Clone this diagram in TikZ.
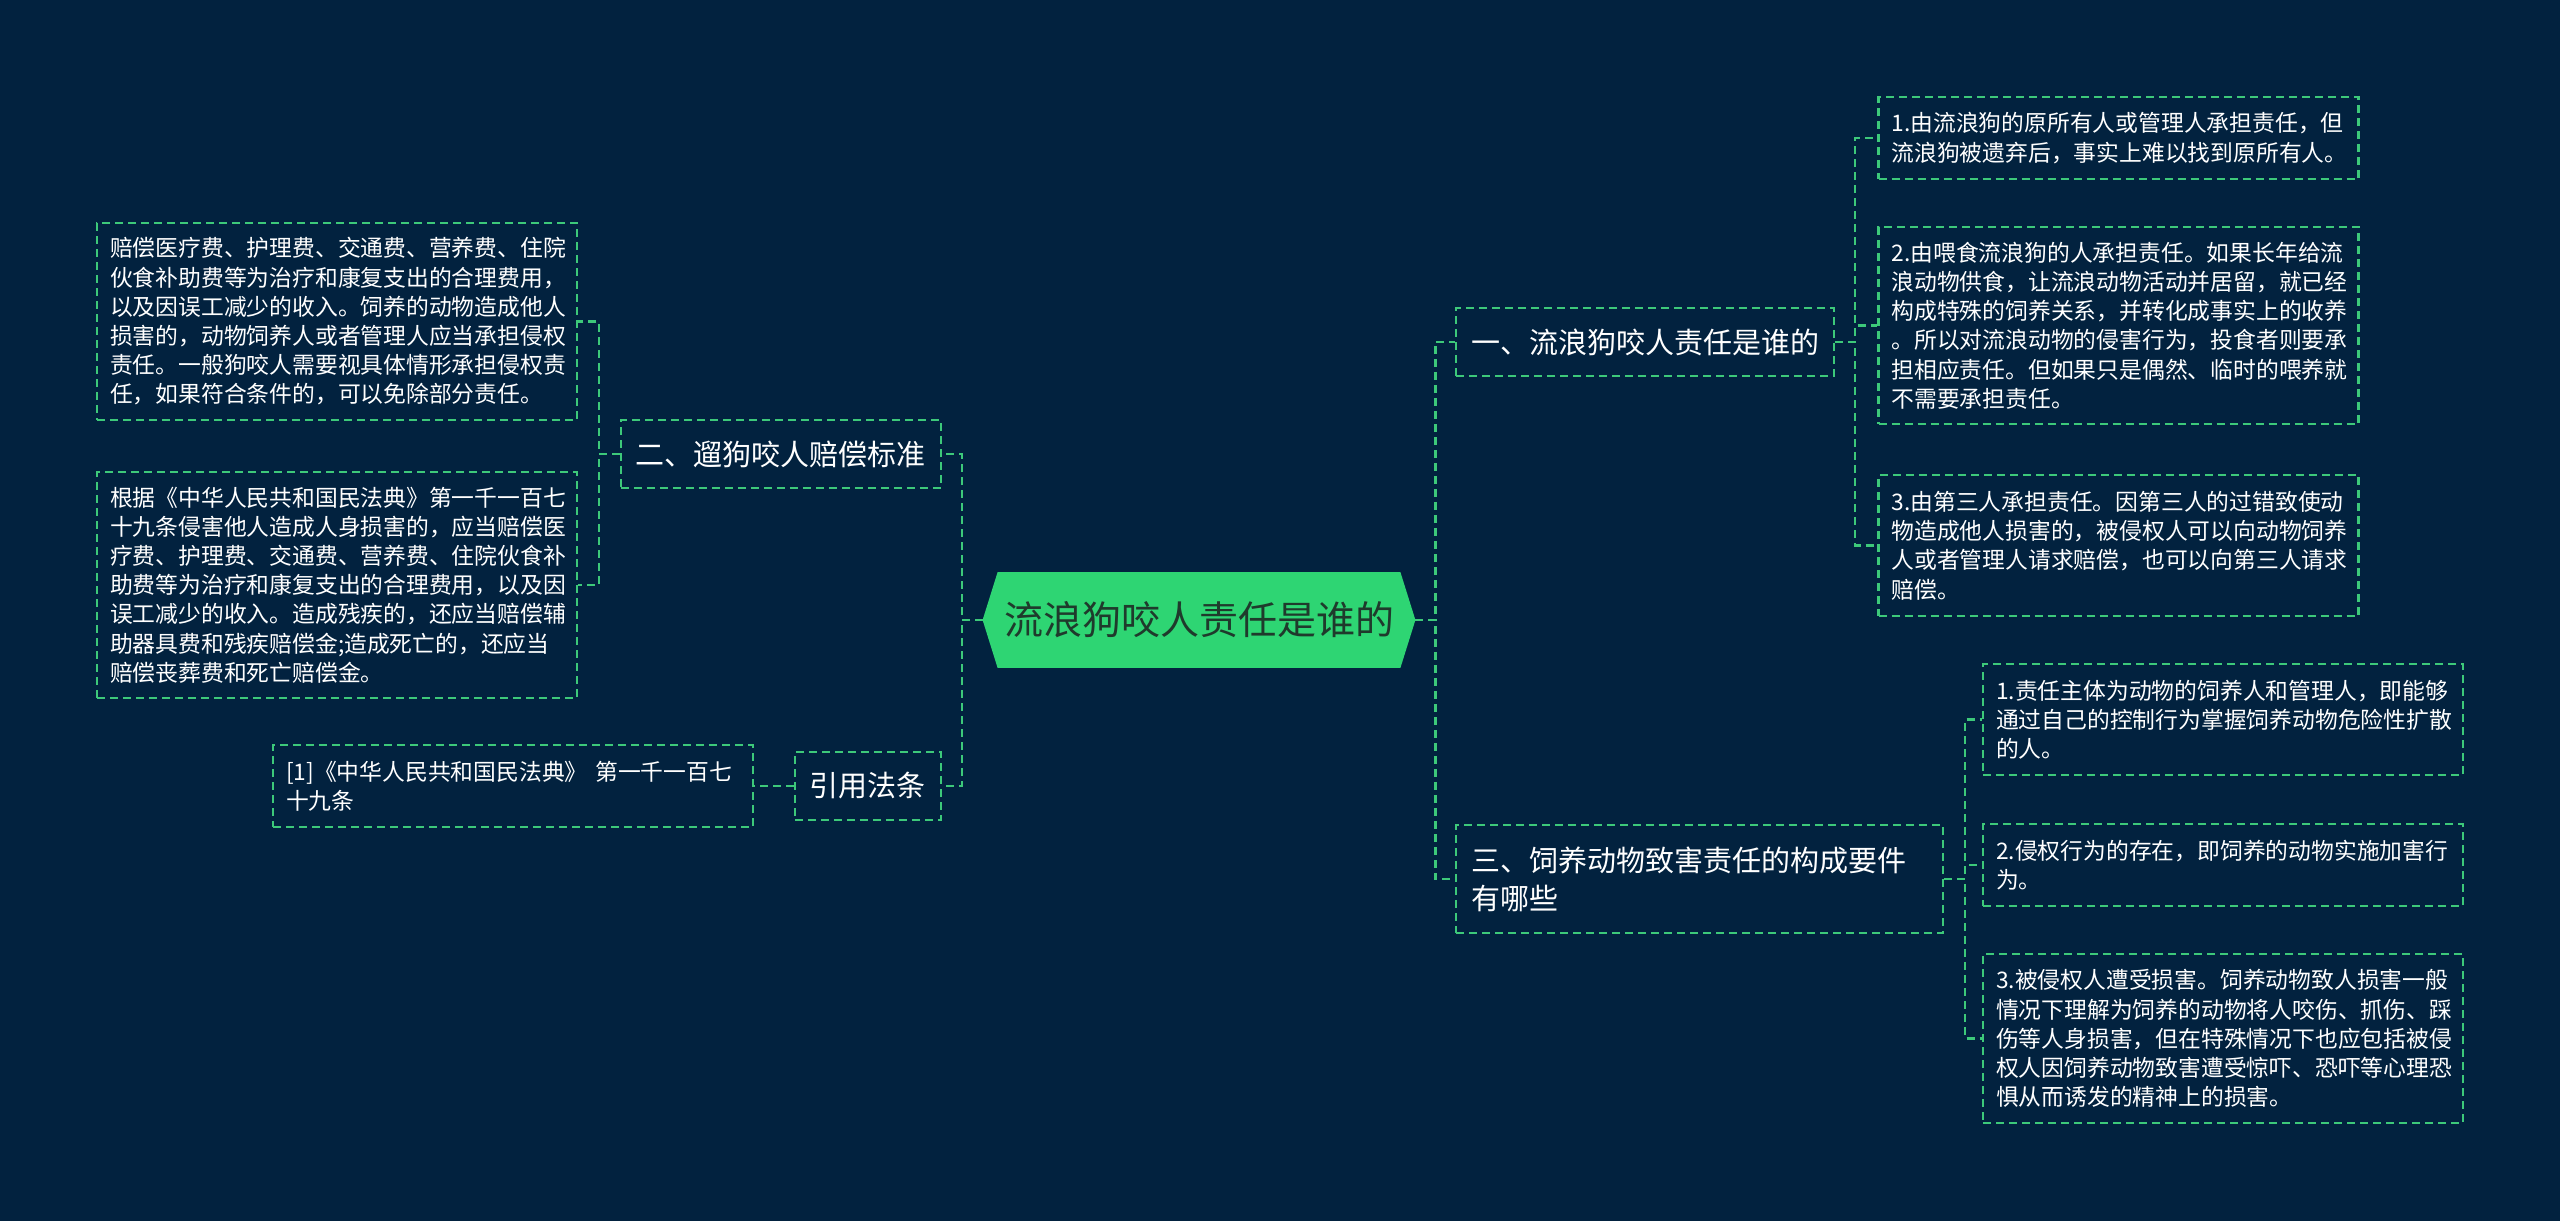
\documentclass[tikz,border=0pt]{standalone}
\usepackage{fontspec}
\setmainfont{Noto Sans CJK SC}
\usetikzlibrary{backgrounds}
\definecolor{bgnavy}{HTML}{02223F}
\definecolor{linegreen}{HTML}{3DC97A}
\definecolor{rootgreen}{HTML}{2ED573}
\definecolor{roottext}{HTML}{1F3A2C}

\begin{document}
\begin{tikzpicture}[x=0.5pt,y=-0.5pt,
  link/.style={draw=linegreen, line width=1.1pt, dash pattern=on 4pt off 2.5pt},
  branch/.style={link, text=white, font=\fontsize{14.5}{19}\selectfont, inner xsep=7.5pt, inner ysep=0pt, minimum height=34pt},
  leaf/.style={link, text=white, font=\fontsize{11.4}{14.6}\selectfont, align=left, text width=227pt, inner xsep=6.5pt, inner ysep=0pt}]
  % Canvas
  \begin{scope}[on background layer]
    \fill[bgnavy] (0,0) rectangle (2560,1221);
  \end{scope}
  \useasboundingbox (0,0) rectangle (2560,1221);
  % Centre topic
  \node[minimum width=216pt, minimum height=47.5pt, inner sep=0pt, text=roottext, font=\fontsize{19.5}{22}\selectfont] (root) at (1199,620) {流浪狗咬人责任是谁的};
  \begin{scope}[on background layer]
    \fill[rootgreen] (root.west) -- ([xshift=7.5pt]root.north west) -- ([xshift=-7.5pt]root.north east)
      -- (root.east) -- ([xshift=-7.5pt]root.south east) -- ([xshift=7.5pt]root.south west) -- cycle;
  \end{scope}
  % Left side: compensation and cited law
  \node[branch, anchor=east] (bite) at (942,454) {二、遛狗咬人赔偿标准};
  \node[branch, anchor=east] (cite) at (942,786) {引用法条};
  \node[leaf, minimum height=98.5pt] (pay1) at (337,321.5) {赔偿医疗费、护理费、交通费、营养费、住院\\伙食补助费等为治疗和康复支出的合理费用，\\以及因误工减少的收入。饲养的动物造成他人\\损害的，动物饲养人或者管理人应当承担侵权\\责任。一般狗咬人需要视具体情形承担侵权责\\任，如果符合条件的，可以免除部分责任。};
  \node[leaf, minimum height=113pt] (pay2) at (337,585) {根据《中华人民共和国民法典》第一千一百七\\十九条侵害他人造成人身损害的，应当赔偿医\\疗费、护理费、交通费、营养费、住院伙食补\\助费等为治疗和康复支出的合理费用，以及因\\误工减少的收入。造成残疾的，还应当赔偿辅\\助器具费和残疾赔偿金;造成死亡的，还应当\\赔偿丧葬费和死亡赔偿金。};
  \node[leaf, minimum height=41pt] (law) at (513,786) {[1]《中华人民共和国民法典》~第一千一百七\\十九条};
  % Right side: who is liable
  \node[branch, anchor=west] (who) at (1455,342) {一、流浪狗咬人责任是谁的};
  \node[leaf, minimum height=41pt] (own) at (2118.5,138) {1.由流浪狗的原所有人或管理人承担责任，但\\流浪狗被遗弃后，事实上难以找到原所有人。};
  \node[leaf, minimum height=98.5pt] (feed) at (2118.5,325.5) {2.由喂食流浪狗的人承担责任。如果长年给流\\浪动物供食，让流浪动物活动并居留，就已经\\构成特殊的饲养关系，并转化成事实上的收养\\。所以对流浪动物的侵害行为，投食者则要承\\担相应责任。但如果只是偶然、临时的喂养就\\不需要承担责任。};
  \node[leaf, minimum height=70.5pt] (third) at (2118.5,545.5) {3.由第三人承担责任。因第三人的过错致使动\\物造成他人损害的，被侵权人可以向动物饲养\\人或者管理人请求赔偿，也可以向第三人请求\\赔偿。};
  % Right side: elements of liability
  \node[branch, anchor=west, align=left, text width=228.5pt, minimum height=54pt] (req) at (1455,879) {三、饲养动物致害责任的构成要件\\有哪些};
  \node[leaf, minimum height=55.5pt] (subj) at (2223,719.5) {1.责任主体为动物的饲养人和管理人，即能够\\通过自己的控制行为掌握饲养动物危险性扩散\\的人。};
  \node[leaf, minimum height=41pt] (act) at (2223,865) {2.侵权行为的存在，即饲养的动物实施加害行\\为。};
  \node[leaf, minimum height=84.5pt] (harm) at (2223,1038.5) {3.被侵权人遭受损害。饲养动物致人损害一般\\情况下理解为饲养的动物将人咬伤、抓伤、踩\\伤等人身损害，但在特殊情况下也应包括被侵\\权人因饲养动物致害遭受惊吓、恐吓等心理恐\\惧从而诱发的精神上的损害。};
  % Connectors
  \draw[link] (root.west) -- ++(-21,0) |- (bite.east);
  \draw[link] (root.west) -- ++(-21,0) |- (cite.east);
  \draw[link] (root.east) -- ++(20,0) |- (who.west);
  \draw[link] (root.east) -- ++(20,0) |- (req.west);
  \foreach \n in {pay1,pay2} \draw[link] (bite.west) -- ++(-21,0) |- (\n.east);
  \draw[link] (cite.west) -- (law.east);
  \foreach \n in {own,feed,third} \draw[link] (who.east) -- ++(20,0) |- (\n.west);
  \foreach \n in {subj,act,harm} \draw[link] (req.east) -- ++(21,0) |- (\n.west);
\end{tikzpicture}
\end{document}
